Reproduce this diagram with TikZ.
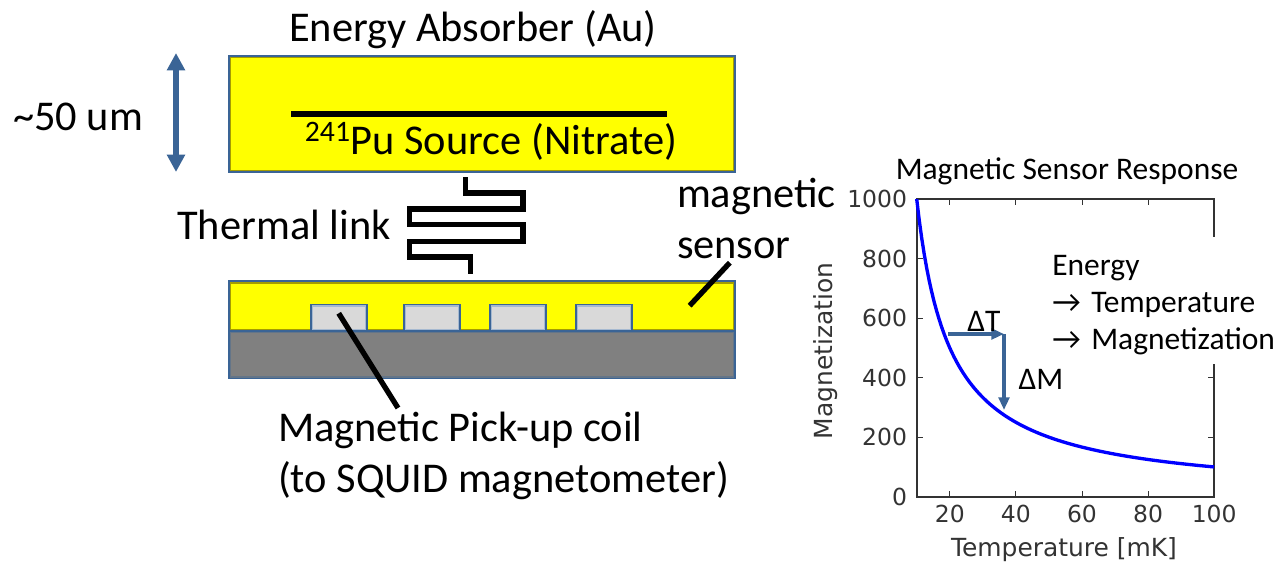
\documentclass[tikz,border=0pt]{standalone}
\usepackage{fontspec}
\usepackage{xcolor}
\usetikzlibrary{arrows.meta}
\setmainfont{Carlito}
\newfontfamily\plotfont{DejaVu Sans}
\definecolor{edgeblue}{HTML}{3A6496}
\definecolor{sensoryellow}{HTML}{FFFF00}
\definecolor{plotgray}{HTML}{333333}

\begin{document}
\begin{tikzpicture}[
x=0.75pt,y=-0.75pt,
>={Triangle[length=9.5pt,width=8pt]},
every node/.style={inner sep=0pt,outer sep=0pt},
label/.style={font=\fontsize{31.8}{38}\selectfont,text=black},
smalllabel/.style={font=\fontsize{23.6}{27.75}\selectfont,text=black},
ticklabel/.style={font=\plotfont\fontsize{17.6}{20}\selectfont,text=plotgray},
axislabel/.style={font=\plotfont\fontsize{18.7}{22}\selectfont,text=plotgray},
innerline/.style={path picture={\draw[#1,line width=3.6pt] (path picture bounding box.south west) rectangle (path picture bounding box.north east);}},
layer/.style={draw=edgeblue,line width=1.3pt,minimum width=379.5pt},
coil/.style={draw=edgeblue,line width=1.3pt,fill=black!15,innerline=edgeblue!45,minimum width=42.5pt,minimum height=20pt},
blackline/.style={draw=black,line width=4pt},
flow/.style={->,draw=edgeblue,line width=2.6pt}
]
\useasboundingbox (0,0) rectangle (1276,563);

% Absorber
\node[layer,fill=sensoryellow,innerline=olive!80!yellow,minimum height=87pt] (absorber) at (482,114) {};
\node[label,anchor=base] (title) at (473,42) {Energy Absorber (Au)};
\node[label,anchor=base] (source) at (491,154) {\textsuperscript{241}Pu Source (Nitrate)};
\coordinate (barleft) at (291,114);
\coordinate (barright) at (667,114);
\draw[blackline] (barleft) -- (barright);

% Thickness
\node[label,anchor=base] (thick) at (78,131) {\textasciitilde50 um};
\coordinate (thicktop) at (176,53);
\coordinate (thickbottom) at (176,172);
\draw[{Triangle[length=13pt,width=13pt]}-{Triangle[length=13pt,width=13pt]},draw=edgeblue,fill=edgeblue,line width=4.5pt] (thicktop) -- (thickbottom);

% Sensor
\node[layer,fill=sensoryellow,innerline=olive!80!yellow,minimum height=37.5pt] (sensor) at (482,306.2) {};
\node[coil] (coila) at (339,317.7) {};
\node[coil] (coilb) at (432,317.7) {};
\node[coil] (coilc) at (518,317.7) {};
\node[coil] (coild) at (604,317.7) {};
\node[layer,fill=gray,innerline=edgeblue!40!gray,minimum height=35.5pt] (substrate) at (482,354.7) {};

% Thermal link
\node[label,anchor=base] (link) at (284,239) {Thermal link};
\coordinate (linktop) at (465.7,177);
\coordinate (linkbottom) at (470.7,274);
\draw[blackline,miter limit=2] (linktop) |- (523,193) |- (409.5,209) |- (523,224.5) |- (409.5,241.7) |- (470.7,257) -- (linkbottom);

% Labels
\node[label,anchor=base west,align=left] (magsensor) at (677,207) {magnetic};
\node[label,anchor=base west,align=left] (magsensorb) at (677,258) {sensor};
\coordinate (sensorpoint) at (689.6,305.7);
\coordinate (sensorend) at (729.8,262.7);
\draw[blackline] (sensorend) -- (sensorpoint);
\node[label,anchor=base west] (pickup) at (278,441) {Magnetic Pick-up coil};
\node[label,anchor=base west] (squid) at (278,492) {(to SQUID magnetometer)};
\coordinate (coilpoint) at (338.7,313.3);
\coordinate (pickupend) at (398,408);
\draw[blackline] (coilpoint) -- (pickupend);

% Plot
\node[smalllabel,anchor=base] (plottitle) at (1067,179) {Magnetic Sensor Response};
\draw[plotgray,line width=1.3pt] (916.7,199) rectangle (1214,496.7);
\foreach \t in {20,40,60,80,100} {
  \draw[plotgray,line width=0.7pt] ({916.7+(\t-10)*3.305},496.7) -- ++(0,-6);
  \draw[plotgray,line width=0.7pt] ({916.7+(\t-10)*3.305},199) -- ++(0,6);
  \node[ticklabel,anchor=base] at ({916.7+(\t-10)*3.305},522) {\t};
}
\foreach \m in {0,200,400,600,800,1000} {
  \draw[plotgray,line width=0.7pt] (916.7,{496.7-\m*0.2977}) -- ++(6,0);
  \draw[plotgray,line width=0.7pt] (1214,{496.7-\m*0.2977}) -- ++(-6,0);
  \node[ticklabel,anchor=east] at (907,{496.7-\m*0.2977}) {\m};
}
\node[axislabel,anchor=base] (xlabel) at (1064,556) {Temperature [mK]};
\node[axislabel,anchor=base,rotate=90] (ylabel) at (832,351) {Magnetization};
\draw[blue,line width=2.5pt,domain=10:100,samples=120] plot ({916.7+(\x-10)*3.305},{496.7-2977/\x});

% Energy box
\node[smalllabel,fill=white,anchor=north west,minimum width=172pt,minimum height=95pt,text width=172pt,align=left] (energy) at (1047,237)
{\rule{0pt}{23pt}\hspace*{4pt}Energy\\\hspace*{4pt}\textrightarrow\ Temperature\\\hspace*{4pt}\textrightarrow\ Magnetization};

% Delta arrows
\coordinate (dtstart) at (948,334);
\coordinate (corner) at (1004,334);
\coordinate (dmend) at (1004,410);
\draw[flow] (dtstart) -- (corner);
\draw[flow] (corner) -- (dmend);
\node[smalllabel,anchor=base] (dt) at (984,331) {ΔT};
\node[smalllabel,anchor=base] (dm) at (1041,389) {ΔM};
\end{tikzpicture}
\end{document}
